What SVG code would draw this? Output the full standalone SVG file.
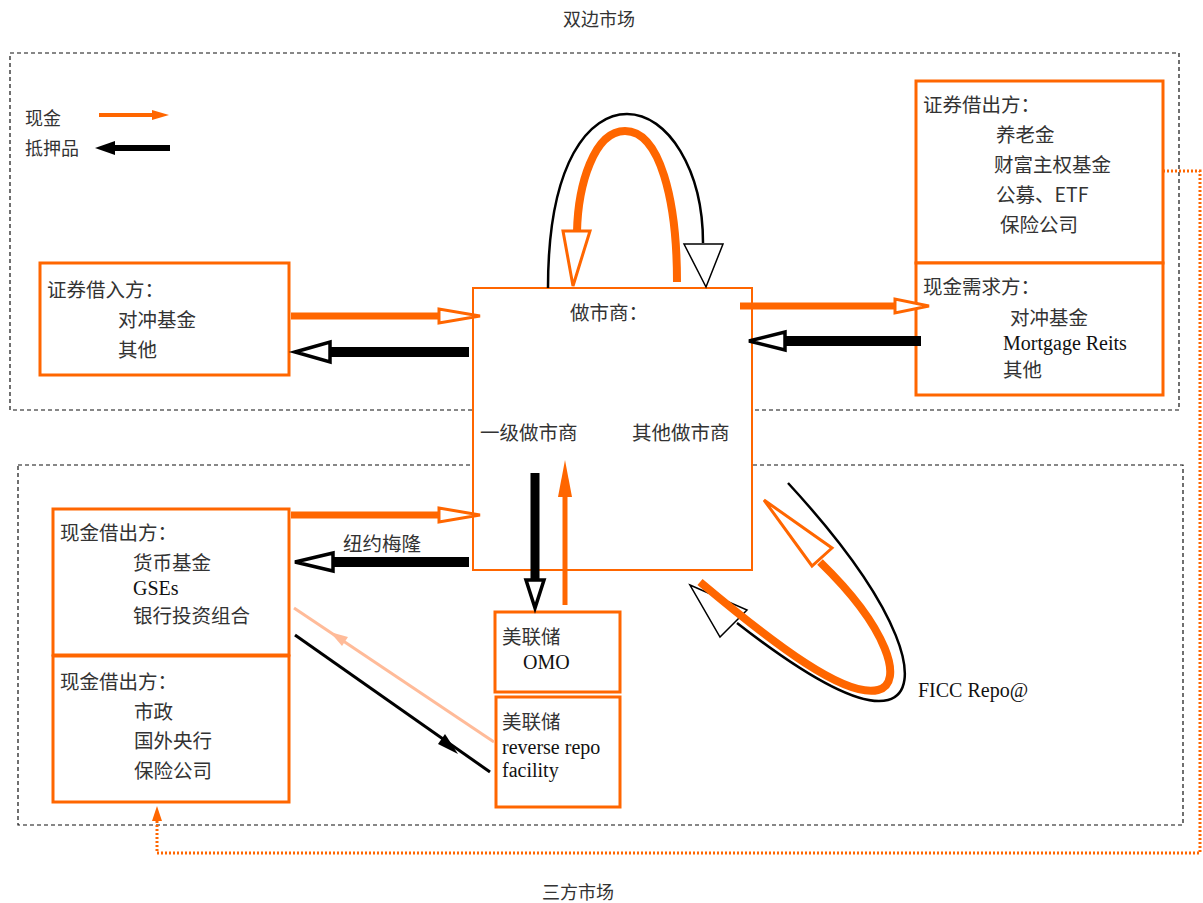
<svg xmlns="http://www.w3.org/2000/svg" width="1203" height="903" viewBox="0 0 1203 903">
<style>
.t{font-family:"Noto Sans CJK SC","Liberation Serif",sans-serif;font-size:19.5px;fill:#333}
.ti{font-family:"Noto Sans CJK SC",sans-serif;font-size:18px;fill:#333}
.e{font-family:"Liberation Serif",serif;font-size:20px;fill:#111}
.box{fill:#fff;stroke:#FF6600;stroke-width:3}
.dash{fill:none;stroke:#111;stroke-width:1.2;stroke-dasharray:4,3}
.oline{stroke:#FF6600;fill:none}
.kline{stroke:#000;fill:none}
.ohead{fill:#fff;stroke:#FF6600;stroke-width:3;stroke-linejoin:miter}
.khead{fill:#fff;stroke:#000;stroke-width:3.5;stroke-linejoin:miter}
</style>
<rect width="1203" height="903" fill="#fff"/>
<text class="ti" x="599" y="26" text-anchor="middle">双边市场</text>
<text class="ti" x="578" y="899" text-anchor="middle">三方市场</text>
<rect class="dash" x="10" y="53" width="1169" height="357"/>
<rect class="dash" x="18" y="465" width="1165" height="360"/>

<g id="legend">
<text class="ti" x="25" y="125">现金</text>
<line x1="99" y1="115" x2="156" y2="115" stroke="#FF6600" stroke-width="4"/>
<polygon points="169,115 152,110 152,120" fill="#FF6600"/>
<text class="ti" x="25" y="155">抵押品</text>
<line x1="170" y1="148" x2="112" y2="148" stroke="#000" stroke-width="6"/>
<polygon points="95,148 115,141 115,155" fill="#000"/>
</g>

<g id="sec-borrower">
<rect class="box" x="40" y="263" width="249" height="112"/>
<text class="t" x="47" y="297">证券借入方：</text>
<text class="t" x="118" y="327">对冲基金</text>
<text class="t" x="118" y="357">其他</text>
</g>

<g id="dealer">
<rect x="473" y="288" width="279" height="282" fill="#fff" stroke="#FF6600" stroke-width="2"/>
<text class="t" x="570" y="320">做市商：</text>
<text class="t" x="480" y="440">一级做市商</text>
<text class="t" x="632" y="440">其他做市商</text>
</g>

<g id="sec-lender">
<rect class="box" x="916" y="81" width="247" height="182"/>
<text class="t" x="923" y="112">证券借出方：</text>
<text class="t" x="996" y="142">养老金</text>
<text class="t" x="994" y="172">财富主权基金</text>
<text class="t" x="996" y="202">公募、ETF</text>
<text class="t" x="1000" y="232">保险公司</text>
</g>

<g id="cash-demand">
<rect class="box" x="916" y="263" width="247" height="132"/>
<text class="t" x="923" y="294">现金需求方：</text>
<text class="t" x="1010" y="325">对冲基金</text>
<text class="e" x="1003" y="350">Mortgage Reits</text>
<text class="t" x="1003" y="377">其他</text>
</g>

<g id="cash-lender-1">
<rect class="box" x="53" y="509" width="236" height="146"/>
<text class="t" x="60" y="540">现金借出方：</text>
<text class="t" x="133" y="570">货币基金</text>
<text class="e" x="133" y="595">GSEs</text>
<text class="t" x="133" y="623">银行投资组合</text>
</g>

<g id="cash-lender-2">
<rect class="box" x="53" y="656" width="236" height="146"/>
<text class="t" x="60" y="689">现金借出方：</text>
<text class="t" x="134" y="719">市政</text>
<text class="t" x="134" y="748">国外央行</text>
<text class="t" x="134" y="778">保险公司</text>
</g>

<g id="fed-omo">
<rect class="box" x="495" y="612" width="125" height="80"/>
<text class="t" x="502" y="644">美联储</text>
<text class="e" x="523" y="669">OMO</text>
</g>

<g id="fed-rrp">
<rect class="box" x="496" y="697" width="124" height="110"/>
<text class="t" x="502" y="729">美联储</text>
<text class="e" x="502" y="754">reverse repo</text>
<text class="e" x="502" y="777">facility</text>
</g>

<g id="connectors">
<line class="oline" x1="291" y1="316" x2="439" y2="316" stroke-width="7"/>
<polygon class="ohead" points="480,316 439,309 439,323"/>
<line class="kline" x1="469" y1="352" x2="330" y2="352" stroke-width="10"/>
<polygon class="khead" points="295,352 330,342 330,362"/>
<line class="oline" x1="740" y1="306" x2="895" y2="306" stroke-width="7"/>
<polygon class="ohead" points="929,306 895,299 895,313"/>
<line class="kline" x1="921" y1="341" x2="785" y2="341" stroke-width="10"/>
<polygon class="khead" points="749,341 785,332 785,350"/>
<line class="oline" x1="291" y1="515" x2="439" y2="515" stroke-width="7"/>
<polygon class="ohead" points="480,515 439,508 439,522"/>
<line class="kline" x1="469" y1="562" x2="333" y2="562" stroke-width="10"/>
<polygon class="khead" points="295,562 333,553 333,571"/>
<text class="t" x="343" y="551">纽约梅隆</text>
<line class="kline" x1="535" y1="473" x2="535" y2="580" stroke-width="9"/>
<polygon class="khead" points="535,608 526,580 544,580"/>
<line class="oline" x1="565" y1="605" x2="565" y2="494" stroke-width="5"/>
<polygon points="565,460 558,497 572,497" fill="#FF6600"/>
<line x1="494" y1="742" x2="294" y2="608" stroke="#FFBB99" stroke-width="3"/>
<polygon points="330,632 348,637 342,646" fill="#FFBB99"/>
<line x1="295" y1="635" x2="490" y2="772" stroke="#000" stroke-width="3"/>
<polygon points="458,754 438,744 445,734" fill="#000"/>
<path class="kline" d="M548,288 C548,160 590,114 627,114 C668,114 703,170 703,243" stroke="#333" stroke-width="2.5"/>
<polygon points="706,287 684,244 723,244" fill="#fff" stroke="#000" stroke-width="1.5"/>
<path class="oline" d="M677,282 C677,200 660,131 625,131 C594,131 578,185 577,232" stroke-width="8"/>
<polygon class="ohead" points="573,286 563,231 590,231"/>
<path class="kline" d="M737,623 C800,672 858,708 888,700 C925,690 905,610 788,483" stroke-width="2.5"/>
<polygon points="690,585 747,610 720,637" fill="#fff" stroke="#000" stroke-width="1.5"/>
<path class="oline" d="M700,582 C775,645 845,698 878,690 C905,683 888,628 820,562" stroke-width="8"/>
<polygon class="ohead" points="764,500 832,548 812,566"/>
<text class="e" x="918" y="697">FICC Repo@</text>
<polyline points="1163,171 1200,171 1200,853 157,853 157,820" fill="none" stroke="#FF6600" stroke-width="3" stroke-dasharray="2,2"/>
<polygon points="157,806 152,821 162,821" fill="#FF6600"/>
</g>
</svg>
